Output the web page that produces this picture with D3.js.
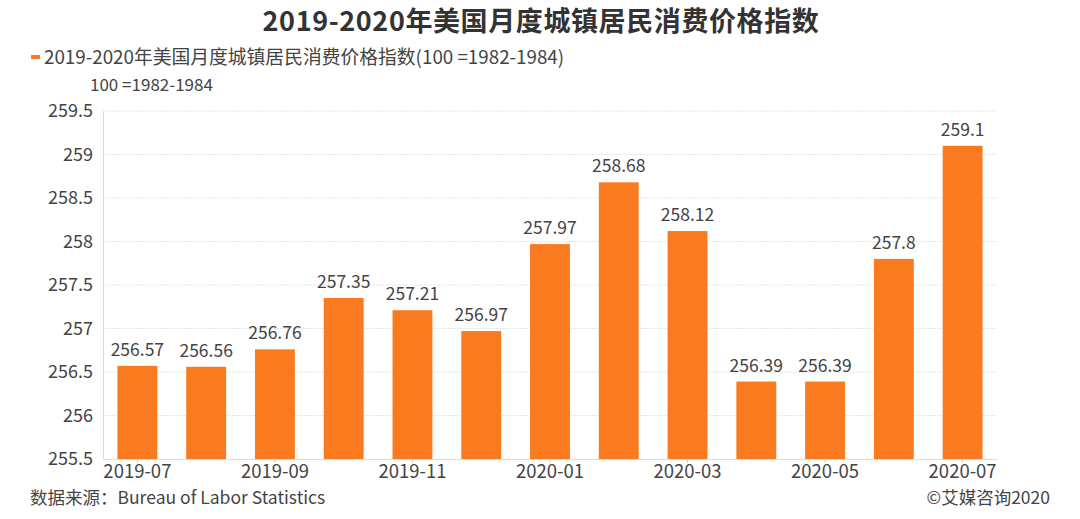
<!DOCTYPE html>
<html><head><meta charset="utf-8">
<script src="https://cdn.jsdelivr.net/npm/d3@7"></script>
<style>body{margin:0;background:#fff;} text{font-family:"Noto Sans CJK SC","Noto Sans",sans-serif;}</style>
</head><body>
<svg id="c" width="1080" height="519"></svg>
<script>
const categories = ["2019-07","2019-08","2019-09","2019-10","2019-11","2019-12","2020-01","2020-02","2020-03","2020-04","2020-05","2020-06","2020-07"];
const values = [256.57,256.56,256.76,257.35,257.21,256.97,257.97,258.68,258.12,256.39,256.39,257.8,259.1];
const valueLabels = ["256.57","256.56","256.76","257.35","257.21","256.97","257.97","258.68","258.12","256.39","256.39","257.8","259.1"];
const yTicks = [255.5,256,256.5,257,257.5,258,258.5,259,259.5];
const xTickLabels = ["2019-07","2019-09","2019-11","2020-01","2020-03","2020-05","2020-07"];
const title = "2019-2020年美国月度城镇居民消费价格指数";
const seriesName = "2019-2020年美国月度城镇居民消费价格指数(100 =1982-1984)";
const unitNote = "100 =1982-1984";
const source = "数据来源：Bureau of Labor Statistics";
const credit = "©艾媒咨询2020";

const svg = d3.select("#c");
const L = 103, R = 997, T = 111, B = 459;
const x = d3.scaleBand().domain(categories).range([L, R]).paddingInner(0.42).paddingOuter(0.21);
const y = d3.scaleLinear().domain([255.5, 259.5]).range([B, T]);
const color = "#F97A1F";

// gridlines
svg.append("g").selectAll("line").data(yTicks.slice(1)).join("line")
  .attr("x1", L).attr("x2", R).attr("y1", d => y(d)).attr("y2", d => y(d))
  .attr("stroke", "#e6e6e6").attr("stroke-width", 1).attr("stroke-dasharray", "2,1");

// y axis
const ya = svg.append("g").attr("transform", `translate(${L},0)`)
  .call(d3.axisLeft(y).tickValues(yTicks).tickSize(0).tickPadding(10).tickFormat(d => String(d)));
ya.select(".domain").attr("stroke", "#dcdcdc");
ya.selectAll("text").attr("font-size", 18).attr("fill", "#444");

// bars
svg.append("g").selectAll("rect").data(values).join("rect")
  .attr("x", (d, i) => x(categories[i])).attr("width", x.bandwidth())
  .attr("y", d => y(d)).attr("height", d => B - y(d)).attr("fill", color);

// value labels
svg.append("g").selectAll("text").data(values).join("text")
  .attr("x", (d, i) => x(categories[i]) + x.bandwidth() / 2).attr("y", d => y(d) - 10)
  .attr("text-anchor", "middle").attr("font-size", 17.5).attr("fill", "#444")
  .text((d, i) => valueLabels[i]);

// x axis
const xa = svg.append("g").attr("transform", `translate(0,${B})`)
  .call(d3.axisBottom(x).tickValues(xTickLabels).tickSize(4).tickPadding(2).tickSizeOuter(0));
xa.select(".domain").attr("stroke", "#dcdcdc");
xa.selectAll(".tick line").attr("stroke", "#ccc");
xa.selectAll("text").attr("font-size", 18.5).attr("fill", "#444");

// title
svg.append("text").attr("x", 541).attr("y", 31).attr("text-anchor", "middle")
  .attr("font-size", 27).attr("letter-spacing", 0.6).attr("font-weight", "bold").attr("fill", "#333").text(title);

// legend
svg.append("rect").attr("x", 31).attr("y", 55).attr("width", 9).attr("height", 4).attr("fill", color);
svg.append("text").attr("x", 44).attr("y", 64).attr("font-size", 18.8).attr("fill", "#444").text(seriesName);
svg.append("text").attr("x", 90).attr("y", 91).attr("font-size", 17).attr("fill", "#444").text(unitNote);

// footer
svg.append("text").attr("x", 30).attr("y", 504).attr("font-size", 17.5).attr("fill", "#444").text(source);
svg.append("text").attr("x", 1050).attr("y", 504).attr("text-anchor", "end").attr("font-size", 17.5).attr("fill", "#444").text(credit);
</script>
</body></html>
